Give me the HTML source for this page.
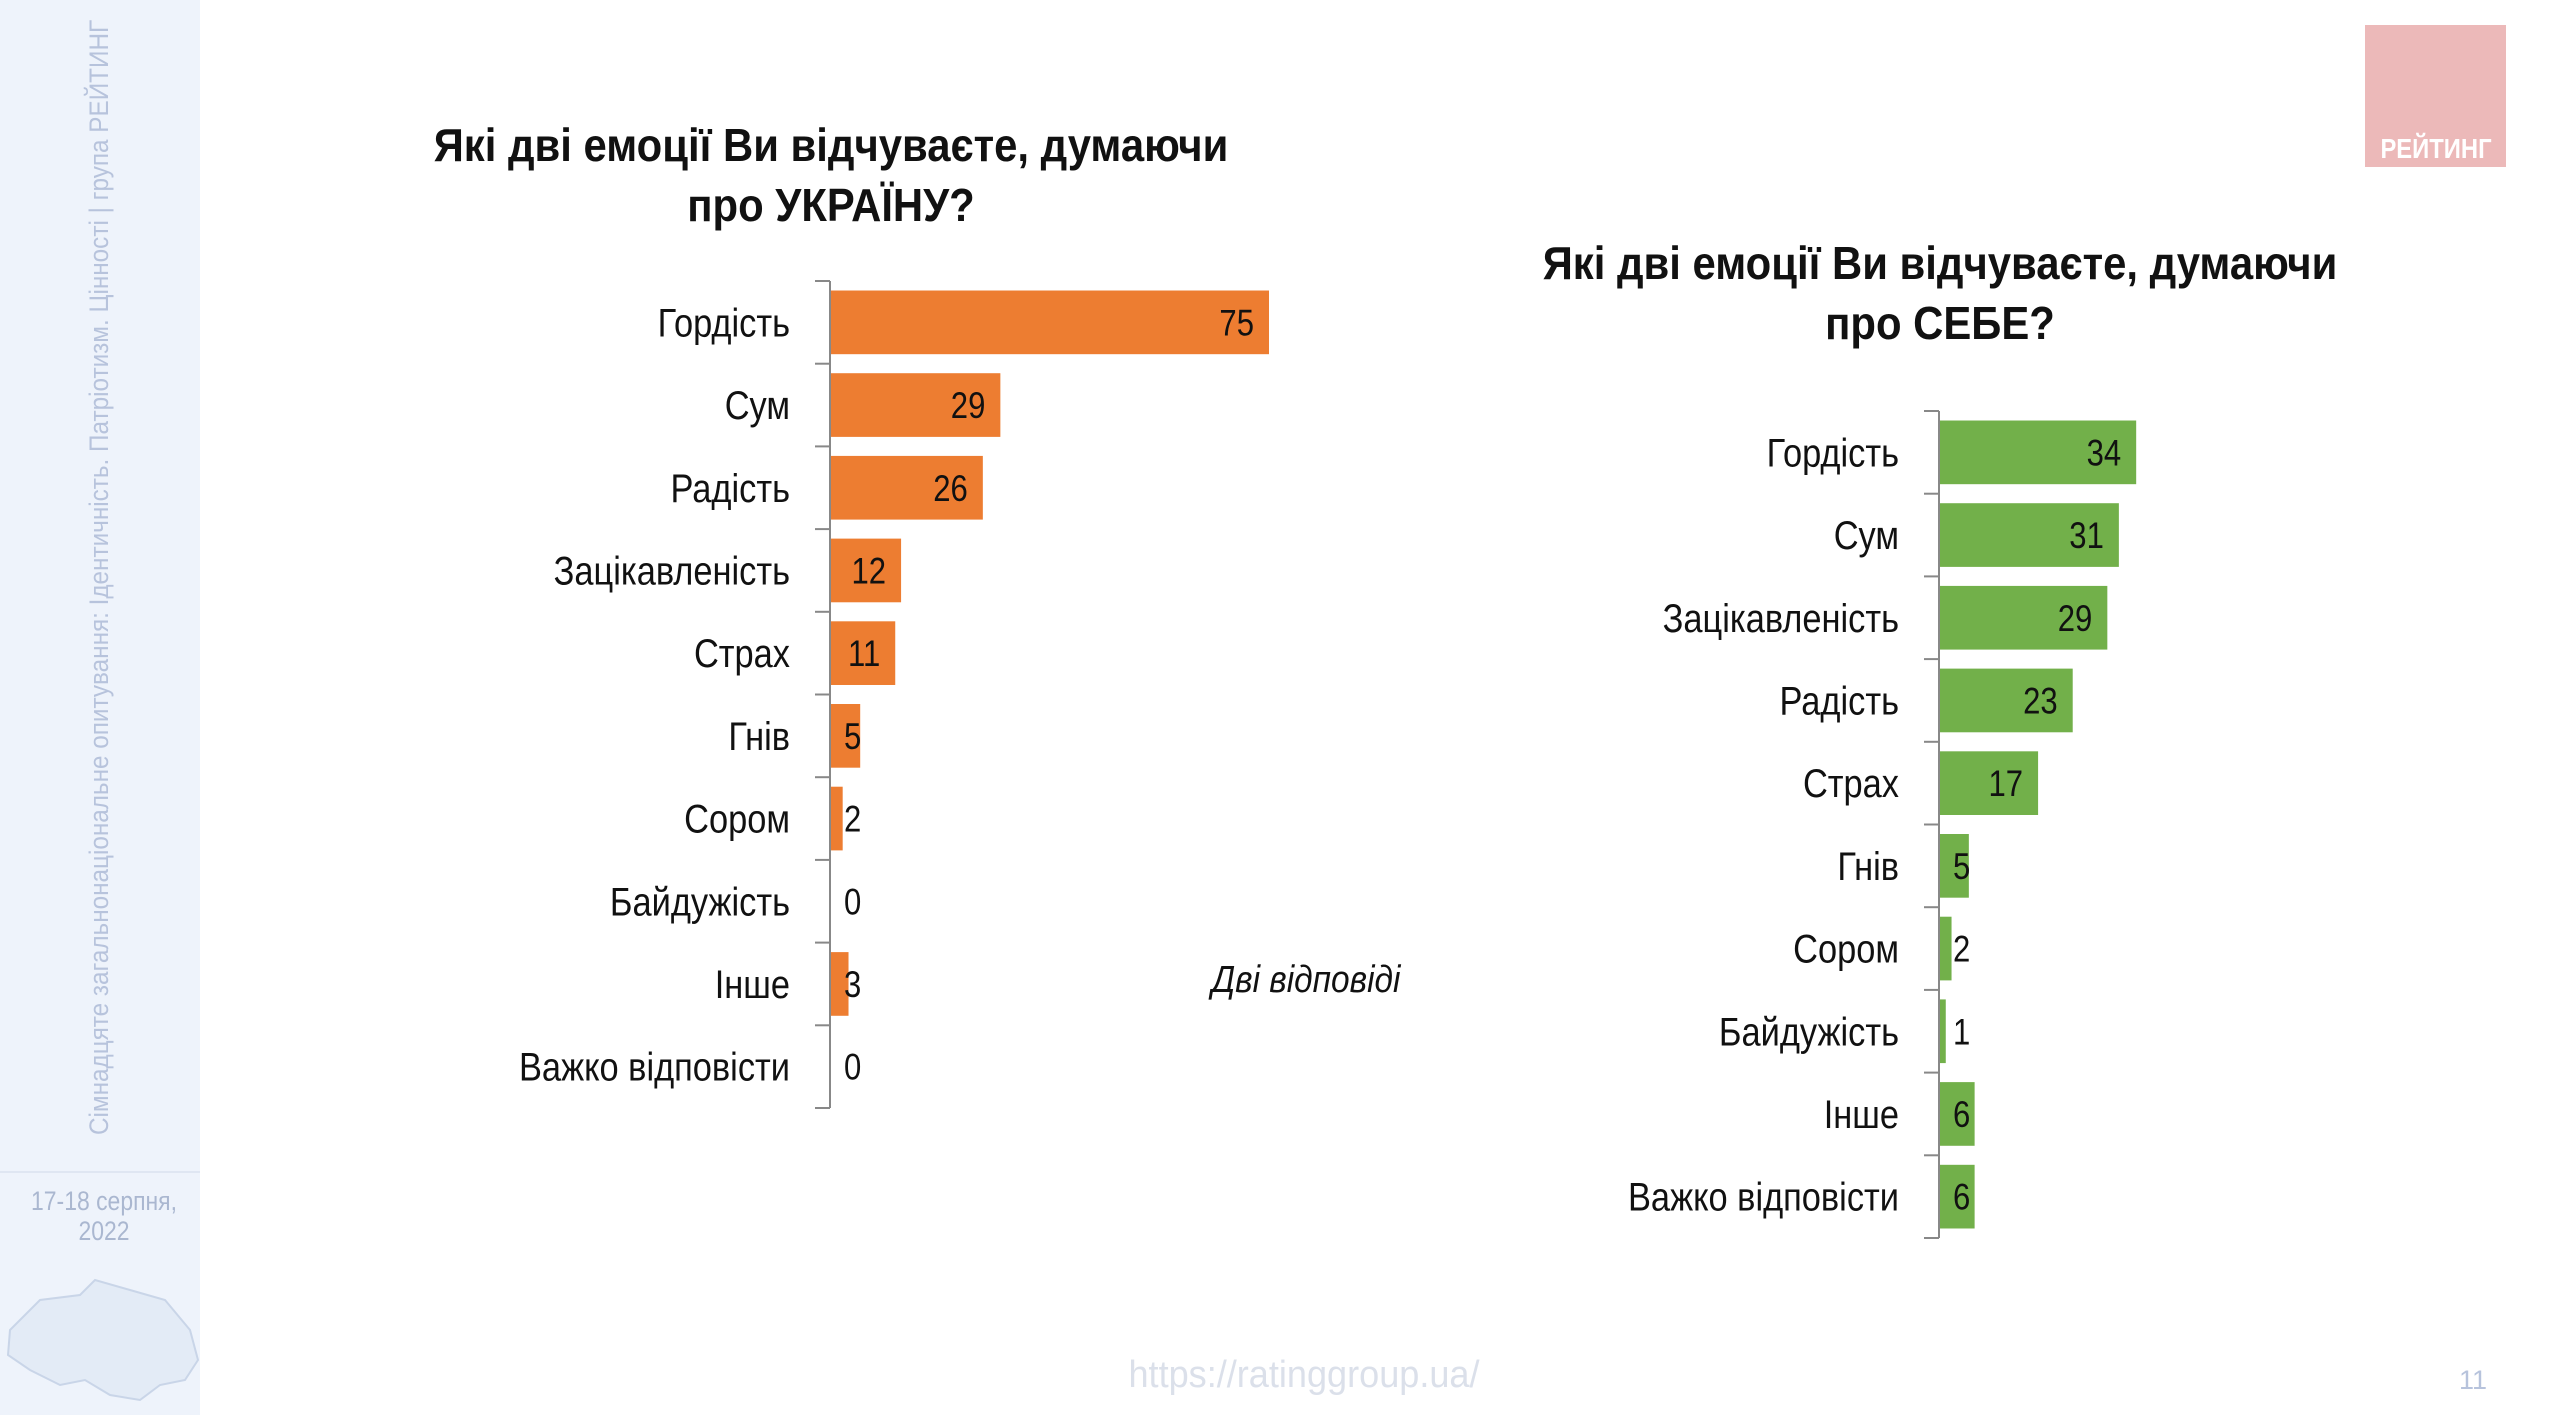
<!DOCTYPE html>
<html><head><meta charset="utf-8">
<style>
html,body{margin:0;padding:0;background:#fff;}
body{width:2560px;height:1415px;overflow:hidden;position:relative;font-family:"Liberation Sans",sans-serif;}
svg text{font-family:"Liberation Sans",sans-serif;}
</style></head>
<body>
<svg id="s" width="2560" height="1415" viewBox="0 0 2560 1415" xmlns="http://www.w3.org/2000/svg">
  <rect x="0" y="0" width="200" height="1415" fill="#eef3fb"/>
  <line x1="0" y1="1172" x2="200" y2="1172" stroke="#dfe6f2" stroke-width="2"/>
  <text transform="translate(108,1135) rotate(-90) scale(0.9,1)" font-size="27" fill="#b7c3dc">Сімнадцяте загальнонаціональне опитування: Ідентичність. Патріотизм. Цінності | група РЕЙТИНГ</text>
  <text transform="translate(104,1210) scale(0.85,1)" font-size="27" fill="#aab7d0" text-anchor="middle">17-18 серпня,</text>
  <text transform="translate(104,1240) scale(0.85,1)" font-size="27" fill="#aab7d0" text-anchor="middle">2022</text>
  <path d="M10 1330 L40 1300 L80 1295 L95 1280 L130 1290 L165 1300 L190 1330 L198 1360 L185 1380 L160 1385 L140 1400 L110 1395 L85 1380 L60 1385 L30 1370 L8 1355 Z" fill="#e3ebf6" stroke="#c9d5e8" stroke-width="2"/>

  <rect x="2365" y="25" width="141" height="142" fill="#ecb9b9"/>
  <text transform="translate(2436,158) scale(0.85,1)" font-size="28" font-weight="bold" fill="#fff" text-anchor="middle">РЕЙТИНГ</text>

  <text transform="translate(831,161) scale(0.91,1)" font-size="46" font-weight="bold" fill="#111" text-anchor="middle">Які дві емоції Ви відчуваєте, думаючи</text>
  <text transform="translate(831,221) scale(0.91,1)" font-size="46" font-weight="bold" fill="#111" text-anchor="middle">про УКРАЇНУ?</text>
  <text transform="translate(1940,279) scale(0.91,1)" font-size="46" font-weight="bold" fill="#111" text-anchor="middle">Які дві емоції Ви відчуваєте, думаючи</text>
  <text transform="translate(1940,339) scale(0.91,1)" font-size="46" font-weight="bold" fill="#111" text-anchor="middle">про СЕБЕ?</text>

  <text transform="translate(1306,992) scale(0.88,1)" font-size="38" font-style="italic" fill="#111" text-anchor="middle">Дві відповіді</text>
  <text transform="translate(1304,1387) scale(0.95,1)" font-size="38" fill="#dbe0ea" text-anchor="middle">https://ratinggroup.ua/</text>
  <text x="2473" y="1389" font-size="27" fill="#b7c3dc" text-anchor="middle">11</text>
  <g id="left"></g>
  <g id="right"></g>
</svg>
<script>
const leftCategories = ["Гордість","Сум","Радість","Зацікавленість","Страх","Гнів","Сором","Байдужість","Інше","Важко відповісти"];
const leftValues = [75,29,26,12,11,5,2,0,3,0];
const rightCategories = ["Гордість","Сум","Зацікавленість","Радість","Страх","Гнів","Сором","Байдужість","Інше","Важко відповісти"];
const rightValues = [34,31,29,23,17,5,2,1,6,6];

const NS = "http://www.w3.org/2000/svg";
function mk(tag, attrs, parent){
  const e = document.createElementNS(NS, tag);
  for (const k in attrs) e.setAttribute(k, attrs[k]);
  parent.appendChild(e);
  return e;
}
function drawChart(g, cats, vals, cfg){
  const n = cats.length;
  const band = (cfg.bottom - cfg.top) / n;
  const xs = v => cfg.axisX + v * cfg.unit;
  const ys = i => cfg.top + i * band;
  const axis = mk("line", {x1:cfg.axisX, y1:cfg.top, x2:cfg.axisX, y2:cfg.bottom, stroke:"#888", "stroke-width":2}, g);
  
  
  for (let i = 0; i <= n; i++) {
    const t = mk("line", {x1:cfg.axisX-15, y1:ys(i), x2:cfg.axisX, y2:ys(i), stroke:"#888", "stroke-width":2}, g);
    
    
  }
  cats.forEach((c, i) => {
    const cy = ys(i) + band / 2;
    const bh = band * 0.77;
    const w = xs(vals[i]) - cfg.axisX;
    const bar = mk("rect", {x:cfg.axisX+1, y:cy-bh/2, width:Math.max(w,0), height:bh, fill:cfg.color}, g);
    
    
    const lab = mk("text", {transform:"translate(" + (cfg.axisX-40) + "," + (cy+14) + ") scale(0.86,1)", "font-size":40, fill:"#111", "text-anchor":"end"}, g);
    lab.textContent = c;
    
    
    let vx, anchor;
    if (w > 50) { vx = xs(vals[i]) - 14; anchor = "end"; }
    else { vx = cfg.axisX + 14; anchor = "start"; }
    const vl = mk("text", {transform:"translate(" + vx + "," + (cy+13) + ") scale(0.84,1)", "font-size":37, fill:"#111", "text-anchor":anchor}, g);
    vl.textContent = vals[i];
    
    
  });
}
drawChart(document.getElementById("left"), leftCategories, leftValues, {axisX:830, unit:5.84, top:281, bottom:1108, color:"#ed7d31", prefix:"ukraine"});
drawChart(document.getElementById("right"), rightCategories, rightValues, {axisX:1939, unit:5.77, top:411, bottom:1238, color:"#72b04a", prefix:"self"});
</script>
</body></html>
